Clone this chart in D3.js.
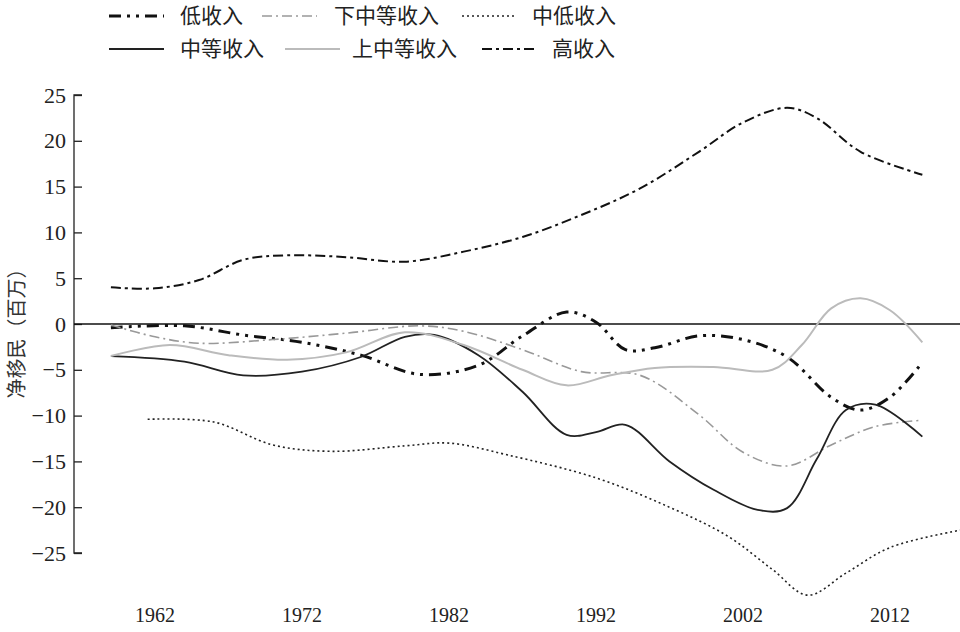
<!DOCTYPE html>
<html><head><meta charset="utf-8">
<script src="https://cdn.jsdelivr.net/npm/d3@7"></script>
<style>body{margin:0;background:#fff}</style>
</head><body><svg id="vis"></svg>
<script>
// [year, value] pairs
const lowIncome = [[1959,-0.4],[1964,-0.2],[1968,-1.2],[1972,-2],[1976,-3.4],[1980,-5.5],[1984,-4.5],[1987,-1.3],[1990,1.3],[1992,0.2],[1994,-2.8],[1996,-2.6],[1999,-1.3],[2002,-1.7],[2005,-3.6],[2008,-8],[2010,-9.4],[2012,-8],[2014.2,-4.2]];
const lowerMiddle = [[1959,-0.1],[1962,-1.4],[1965,-2.1],[1970,-1.7],[1975,-1],[1980,-0.2],[1983,-0.8],[1987,-2.8],[1991,-5.2],[1995,-5.6],[1999,-9.9],[2002,-14],[2005,-15.5],[2008,-13.2],[2011,-11.2],[2014.2,-10.5]];
const lowAndMiddle = [[1961.5,-10.4],[1966,-10.7],[1970,-13.2],[1974,-13.9],[1979,-13.3],[1982,-13],[1986,-14.3],[1992,-16.8],[1997,-20],[2001,-23.2],[2004,-26.8],[2006.4,-29.6],[2009,-27.2],[2012,-24.4],[2016.8,-22.5]];
const middle = [[1959,-3.5],[1964,-4.1],[1968,-5.6],[1972,-5.2],[1976,-3.6],[1979,-1.4],[1981,-1.2],[1984,-3.4],[1987,-7.4],[1990,-12.1],[1992,-11.8],[1994,-11],[1997,-15],[2000,-18.1],[2003,-20.3],[2005,-20.1],[2007,-14.8],[2009,-9.4],[2011,-8.8],[2014.2,-12.3]];
const upperMiddle = [[1959,-3.5],[1963,-2.3],[1967,-3.4],[1971,-3.9],[1975,-3.1],[1979,-0.9],[1983,-2.3],[1987,-5],[1990,-6.7],[1993,-5.6],[1996,-4.8],[2000,-4.7],[2004,-5],[2006,-2.3],[2008,1.7],[2010,2.8],[2012,1.5],[2014.2,-2]];
const highIncome = [[1959,4],[1962,3.9],[1965,4.8],[1968,7],[1971,7.5],[1975,7.3],[1979,6.8],[1983,7.9],[1987,9.5],[1991,11.9],[1995,14.8],[1999,18.8],[2002,22],[2005,23.6],[2007,22.5],[2010,18.8],[2014.2,16.3]];
const xTicks = [1962,1972,1982,1992,2002,2012];
const yTicks = [25,20,15,10,5,0,-5,-10,-15,-20,-25];

const series = [
  {name:"低收入", data:lowIncome, color:"#111", width:3, dash:"12,6,3,6,3,6"},
  {name:"下中等收入", data:lowerMiddle, color:"#999", width:1.6, dash:"10,4,2,4"},
  {name:"中低收入", data:lowAndMiddle, color:"#222", width:1.6, dash:"2,3"},
  {name:"中等收入", data:middle, color:"#222", width:1.8, dash:null},
  {name:"上中等收入", data:upperMiddle, color:"#bbb", width:2, dash:null},
  {name:"高收入", data:highIncome, color:"#111", width:2, dash:"10,4,3,4"}
];
const legendPos = [[109,180],[262,334],[462,532],[109,180],[285,352],[482,552]];

const WIDTH = 960, HEIGHT = 632;
const SVG = d3.select("#vis").attr("width", WIDTH).attr("height", HEIGHT);

const x = d3.scaleLinear().domain([1962, 2012]).range([155, 890]);
const y = d3.scaleLinear().domain([-25, 25]).range([553, 95]);

// y axis, ticks inward
const yAxis = SVG.append("g").attr("transform", "translate(74,0)")
  .call(d3.axisRight(y).tickValues(yTicks).tickSize(8).tickFormat(d => d < 0 ? "\u2212" + (-d) : d));
yAxis.select(".domain").attr("d", "M8,95H0V553H8").attr("stroke", "#222").attr("stroke-width", 1.3);
yAxis.selectAll(".tick line").attr("stroke", "#222").attr("stroke-width", 1.3);
yAxis.selectAll(".tick text").attr("x", -8).attr("text-anchor", "end")
  .style("font-family", "Liberation Serif").style("font-size", "22px").attr("fill", "#222");

// zero line
SVG.append("line").attr("x1", 74).attr("x2", 960).attr("y1", y(0)).attr("y2", y(0))
  .attr("stroke", "#111").attr("stroke-width", 1.4);

// x labels
SVG.selectAll(".xl").data(xTicks).enter().append("text")
  .attr("x", d => x(d)).attr("y", 622).attr("text-anchor", "middle")
  .style("font-family", "Liberation Serif").style("font-size", "20px").attr("fill", "#222")
  .text(d => d);

// y title
SVG.append("text").attr("transform", `translate(24,${y(-0.5)}) rotate(-90)`)
  .attr("text-anchor", "middle").style("font-family", "Noto Sans CJK SC").style("font-size", "20px")
  .attr("fill", "#333").text("净移民（百万）");

const line = d3.line().x(d => x(d[0])).y(d => y(d[1])).curve(d3.curveCatmullRom.alpha(0.5));

SVG.selectAll(".series").data(series).enter().append("path")
  .attr("d", d => line(d.data)).attr("fill", "none")
  .attr("stroke", d => d.color).attr("stroke-width", d => d.width)
  .attr("stroke-dasharray", d => d.dash);

// legend
const lg = SVG.selectAll(".lg").data(series).enter().append("g")
  .attr("transform", (d, i) => `translate(0,${i < 3 ? 16 : 49})`);
lg.append("line").attr("x1", (d, i) => legendPos[i][0]).attr("x2", (d, i) => legendPos[i][0] + 55)
  .attr("stroke", d => d.color).attr("stroke-width", d => d.width).attr("stroke-dasharray", d => d.dash);
lg.append("text").attr("x", (d, i) => legendPos[i][1]).attr("y", 0).attr("dy", "0.35em")
  .style("font-family", "Noto Sans CJK SC").style("font-size", "21px").attr("fill", "#222")
  .text(d => d.name);
</script></body></html>
